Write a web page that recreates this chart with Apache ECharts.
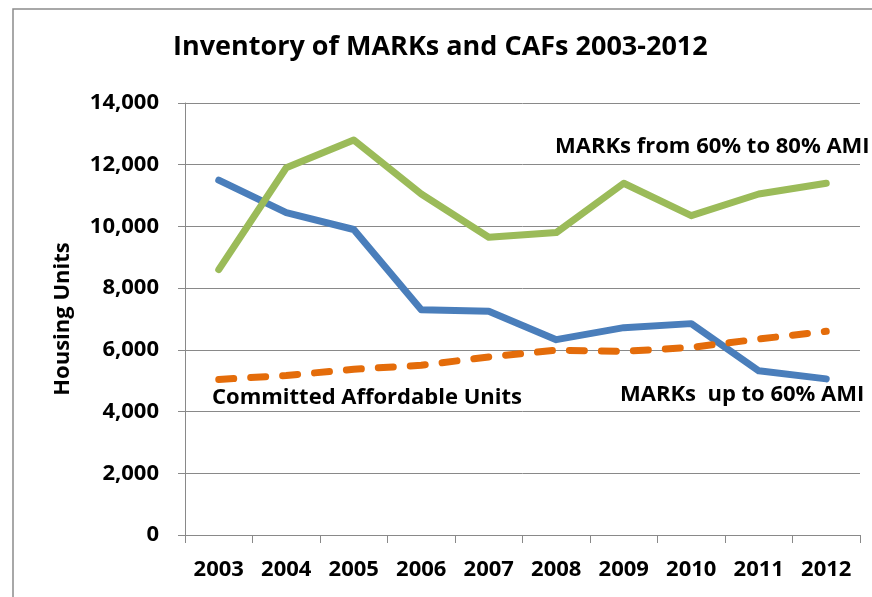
<!DOCTYPE html>
<html>
<head>
<meta charset="utf-8">
<script src="https://cdn.jsdelivr.net/npm/echarts@6/dist/echarts.min.js"></script>
<style>
  html, body { margin: 0; padding: 0; background: #ffffff; }
  #chart { width: 872px; height: 597px; }
</style>
</head>
<body>
<div id="chart"></div>
<script>
// Years on the category axis
const years = ['2003', '2004', '2005', '2006', '2007', '2008', '2009', '2010', '2011', '2012'];

// Housing units per year
const marksUpTo60 = [11500, 10450, 9900, 7300, 7250, 6330, 6720, 6850, 5320, 5060];
const marks60to80 = [8600, 11900, 12800, 11050, 9650, 9800, 11400, 10350, 11050, 11400];
const committedAffordable = [5040, 5170, 5370, 5500, 5770, 5990, 5950, 6080, 6350, 6600];

// Value axis range
const yMin = 0;
const yMax = 14000;
const yStep = 2000;

const FONT = '"Open Sans", Lato, sans-serif';
const GRID_COLOR = '#898989';

const chart = echarts.init(document.getElementById('chart'), null, { renderer: 'canvas' });

chart.setOption({
  animation: false,
  backgroundColor: '#ffffff',
  grid: { left: 185, right: 12, top: 103, bottom: 62, containLabel: false },
  xAxis: {
    type: 'category',
    data: years,
    boundaryGap: true,
    axisLine: { show: true, lineStyle: { color: GRID_COLOR, width: 1 } },
    axisTick: { show: true, length: 8, lineStyle: { color: GRID_COLOR, width: 1 } },
    axisLabel: { color: '#000', fontFamily: FONT, fontWeight: 'bold', fontSize: 22, margin: 24 },
    splitLine: { show: false }
  },
  yAxis: {
    type: 'value',
    min: yMin,
    max: yMax,
    interval: yStep,
    name: 'Housing Units',
    nameLocation: 'middle',
    nameGap: 111,
    nameRotate: 90,
    nameTextStyle: { color: '#000', fontFamily: FONT, fontWeight: 'bold', fontSize: 22 },
    axisLine: { show: true, lineStyle: { color: GRID_COLOR, width: 1 } },
    axisTick: { show: true, length: 7, lineStyle: { color: GRID_COLOR, width: 1 } },
    axisLabel: {
      color: '#000', fontFamily: FONT, fontWeight: 'bold', fontSize: 22, margin: 26,
      formatter: v => v.toLocaleString('en-US')
    },
    splitLine: { show: true, lineStyle: { color: GRID_COLOR, width: 1 } }
  },
  series: [
    {
      name: 'MARKs  up to 60% AMI',
      type: 'line',
      data: marksUpTo60,
      symbol: 'none',
      lineStyle: { color: '#4A7EBB', width: 7, cap: 'round', join: 'round' },
      z: 2
    },
    {
      name: 'MARKs from 60% to 80% AMI',
      type: 'line',
      data: marks60to80,
      symbol: 'none',
      lineStyle: { color: '#9BBB59', width: 7, cap: 'round', join: 'round' },
      z: 3
    },
    {
      name: 'Committed Affordable Units',
      type: 'line',
      data: committedAffordable,
      symbol: 'none',
      lineStyle: { color: '#E46C0A', width: 7, type: [15, 17], cap: 'round', join: 'round' },
      z: 4
    }
  ],
  graphic: [
    {
      type: 'rect',
      shape: { x: 13, y: 9, width: 900, height: 700 },
      style: { fill: 'none', stroke: '#8c8c8c', lineWidth: 1.5 },
      silent: true
    },
    {
      type: 'text',
      left: 173, top: 34,
      style: { text: 'Inventory of MARKs and CAFs 2003-2012', fill: '#000', font: 'bold 27px ' + FONT }
    },
    {
      type: 'text',
      left: 555, top: 136,
      style: { text: 'MARKs from 60% to 80% AMI', fill: '#000', font: 'bold 22px ' + FONT }
    },
    {
      type: 'text',
      left: 212, top: 387,
      style: { text: 'Committed Affordable Units', fill: '#000', font: 'bold 22px ' + FONT }
    },
    {
      type: 'text',
      left: 620, top: 384,
      style: { text: 'MARKs  up to 60% AMI', fill: '#000', font: 'bold 22px ' + FONT }
    }
  ]
});
</script>
</body>
</html>
